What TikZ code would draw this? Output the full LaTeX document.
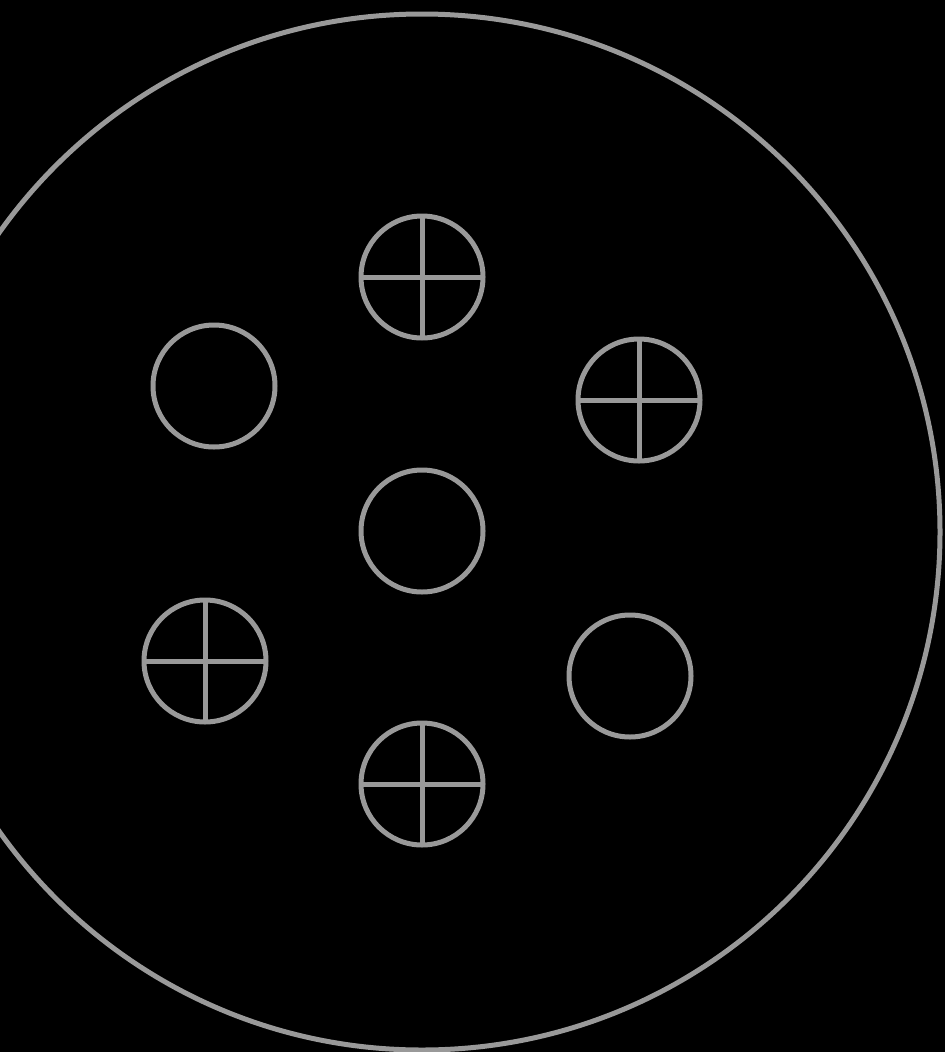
\documentclass[tikz,border=0pt]{standalone}
\begin{document}
\begin{tikzpicture}[x=1pt,y=-1pt,
  ln/.style={draw=gray60,line width=5pt},
  hole/.style={circle,ln,minimum size=122pt,inner sep=0pt,outer sep=0pt},
]
\definecolor{gray60}{HTML}{999999}
\fill[black] (0,0) rectangle (945,1052);
\useasboundingbox (0,0) rectangle (945,1052);
\begin{scope}
\clip (0,0) rectangle (945,1052);
\node[circle,ln,minimum size=1036pt,inner sep=0pt] (outer) at (422,532) {};
\end{scope}
\node[hole] (t) at (422,277) {};
\node[hole] (ul) at (214,386) {};
\node[hole] (ur) at (639,400) {};
\node[hole] (c) at (422,531) {};
\node[hole] (ll) at (205,661) {};
\node[hole] (lr) at (630,676) {};
\node[hole] (b) at (422,784) {};
\foreach \n in {t,ur,ll,b}{
  \draw[ln] (\n.north) -- (\n.south);
  \draw[ln] (\n.west) -- (\n.east);
}
\end{tikzpicture}
\end{document}
